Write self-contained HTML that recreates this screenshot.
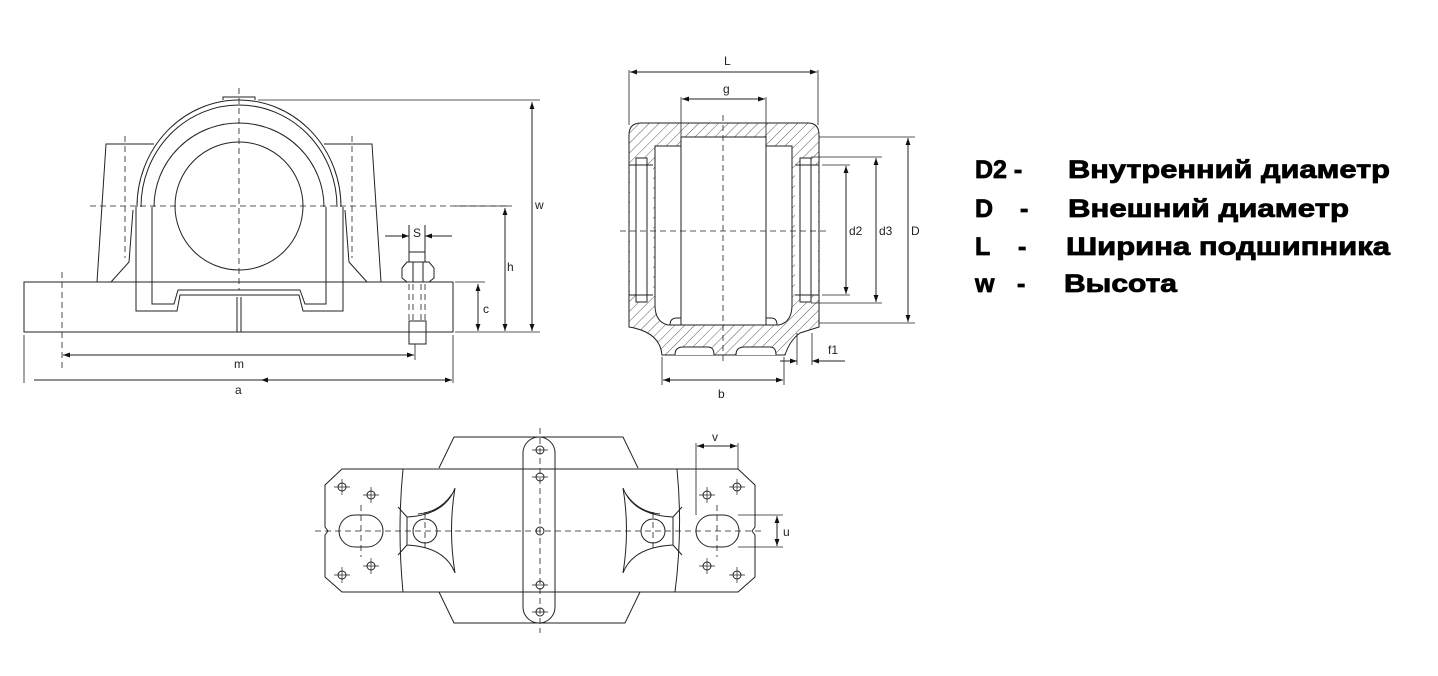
<!DOCTYPE html>
<html><head><meta charset="utf-8"><style>
html,body{margin:0;padding:0;background:#fff;}
svg{display:block;}
.t{font-family:"Liberation Sans",sans-serif;font-size:12px;fill:#222;}
.b{font-family:"Liberation Sans",sans-serif;font-weight:bold;font-size:25px;fill:#000;stroke:#000;stroke-width:0.8;}
</style></head><body>
<svg width="1438" height="676" viewBox="0 0 1438 676" xmlns="http://www.w3.org/2000/svg">
<defs>
<marker id="ar" viewBox="0 0 10 10" refX="10" refY="5" markerWidth="7" markerHeight="7" orient="auto-start-reverse"><path d="M0,1.5 L10,5 L0,8.5 z" fill="#111"/></marker>
<pattern id="h" width="7" height="7" patternUnits="userSpaceOnUse" patternTransform="rotate(45)"><line x1="0" y1="0" x2="0" y2="7" stroke="#333" stroke-width="0.8"/></pattern>
</defs>
<g fill="none" stroke="#222" stroke-width="1">
<!-- LEFT VIEW -->
<rect x="24" y="282" width="429" height="50"/>
<path d="M97,282 L106,144 L154,144 M111,282 L129,262 L133,210"/>
<path d="M381,282 L372,144 L324,144 M367,282 L349,262 L345,210"/>
<path d="M223,100 L223,97 L255,97 L255,100"/>
<path d="M137,207 A102,107 0 0 1 341,207"/>
<path d="M141,207 A98,102 0 0 1 337,207"/>
<path d="M136,207 L136,311 L177,311 L180,295 L299,295 L303,311 L343,311 L343,207"/>
<path d="M152,207 L152,304 L174,304 L178,290 L300,290 L305,304 L326,304 L326,207"/>
<path d="M154,207 A85,84 0 0 1 324,207"/>
<circle cx="239" cy="206" r="64"/>
<path d="M237,297 V332 M241,297 V332"/>
<g stroke-dasharray="6,4" stroke-width="0.8">
<path d="M239,88 V290 M90,206 H510 M125,136 V258 M352,136 V258 M62,272 V372"/>
<path d="M409,284 V321 M413,284 V321 M421,284 V321 M425,284 V321"/>
</g>
<path d="M402,268 L407,262 L429,262 L434,268 L434,278 L429,282 L407,282 L402,278 z M413,262 V282 M423,262 V282 M409,262 V252 H425 V262"/>
<rect x="409" y="321" width="17" height="23"/>
<path d="M409,225 V252 M425,225 V252"/>
<line x1="385" y1="236" x2="409" y2="236" marker-end="url(#ar)"/>
<line x1="452" y1="236" x2="425" y2="236" marker-end="url(#ar)"/>
<path d="M455,282 H485 M258,100 H540 M455,332 H540 M455,206 H512" stroke-width="0.8"/>
<line x1="478" y1="284" x2="478" y2="331" marker-start="url(#ar)" marker-end="url(#ar)"/>
<line x1="505" y1="208" x2="505" y2="331" marker-start="url(#ar)" marker-end="url(#ar)"/>
<line x1="532" y1="102" x2="532" y2="331" marker-start="url(#ar)" marker-end="url(#ar)"/>
<path d="M24,335 V383 M453,335 V383 M415,344 V360" stroke-width="0.8"/>
<line x1="63" y1="355" x2="414" y2="355" marker-start="url(#ar)" marker-end="url(#ar)"/>
<line x1="34" y1="380" x2="452" y2="380" marker-end="url(#ar)"/>
<line x1="300" y1="380" x2="261" y2="380" marker-end="url(#ar)"/>

<!-- MIDDLE VIEW -->
<path d="M629,135 Q629,123 641,123 L808,123 Q819,123 819,135 L819,327 L800,333 Q790,340 785,355 L662,355 Q660,332 629,327 z" fill="url(#h)"/>
<rect x="681" y="137" width="85" height="188" fill="#fff"/>
<path d="M655,146 L681,146 L681,325 L668,325 Q655,322 655,305 z" fill="#fff"/>
<path d="M766,146 L792,146 L792,305 Q792,322 779,325 L766,325 z" fill="#fff"/>
<path d="M630,165 L653,165 L653,295 L630,295 z M795,165 L818,165 L818,295 L795,295 z" fill="#fff" stroke="none"/>
<rect x="636" y="158" width="11" height="144" fill="#fff"/>
<rect x="800" y="158" width="11" height="144" fill="#fff"/>
<path d="M629,165 H653 M629,295 H653 M795,165 H819 M795,295 H819"/>
<path d="M675,355 Q675,347 683,347 L708,347 Q714,347 714,355 M736,355 Q736,347 744,347 L770,347 Q776,347 776,355" fill="#fff"/>
<path d="M670,325 Q670,318 677,318 L681,318 M766,318 L771,318 Q777,318 777,325"/>
<g stroke-dasharray="6,4" stroke-width="0.8"><path d="M723,115 V365 M620,231 H830"/></g>
<path d="M629,70 V125 M818,70 V125 M681,97 V137 M766,97 V137 M819,137 H915 M819,323 H915 M811,157 H882 M822,165 H850 M822,295 H850 M811,303 H882 M662,357 V385 M784,357 V385 M797,333 V365 M812,333 V365" stroke-width="0.8"/>
<line x1="630" y1="72" x2="817" y2="72" marker-start="url(#ar)" marker-end="url(#ar)"/>
<line x1="682" y1="99" x2="765" y2="99" marker-start="url(#ar)" marker-end="url(#ar)"/>
<line x1="908" y1="138" x2="908" y2="322" marker-start="url(#ar)" marker-end="url(#ar)"/>
<line x1="876" y1="158" x2="876" y2="302" marker-start="url(#ar)" marker-end="url(#ar)"/>
<line x1="846" y1="166" x2="846" y2="294" marker-start="url(#ar)" marker-end="url(#ar)"/>
<line x1="663" y1="380" x2="783" y2="380" marker-start="url(#ar)" marker-end="url(#ar)"/>
<line x1="780" y1="361" x2="797" y2="361" marker-end="url(#ar)"/>
<line x1="845" y1="361" x2="812" y2="361" marker-end="url(#ar)"/>

<!-- BOTTOM VIEW -->
<path d="M439,468 L454,437 L623,437 L638,468"/>
<path d="M439,592 L454,623 L625,623 L640,592"/>
<path d="M342,469 L738,469 L755,485 L755,527 L752,531 L755,535 L755,577 L738,592 L342,592 L325,577 L325,535 L328,531 L325,527 L325,485 z"/>
<path d="M403,469 Q397,530 403,592 M677,469 Q683,530 675,592"/>
<rect x="523" y="437" width="32" height="186" rx="16"/>
<rect x="339" y="515" width="44" height="32" rx="16"/>
<rect x="696" y="515" width="43" height="32" rx="16"/>
<path d="M398,507 L407,517 L407,545 L398,555 M455,488 Q445,515 407,517 M455,573 Q445,547 407,545 M455,488 Q448,530 455,573 M452,494 Q440,512 418,514"/>
<path d="M682,507 L673,517 L673,545 L682,555 M623,488 Q633,515 673,517 M623,573 Q633,547 673,545 M623,488 Q630,530 623,573 M626,494 Q638,512 660,514"/>
<circle cx="425" cy="531" r="12"/><circle cx="653" cy="531" r="12"/>
<g>
<circle cx="540" cy="450" r="4"/><circle cx="540" cy="477" r="4"/><circle cx="540" cy="531" r="4"/><circle cx="540" cy="585" r="4"/><circle cx="540" cy="612" r="4"/>
<circle cx="342" cy="487" r="4"/><circle cx="371" cy="495" r="4"/><circle cx="342" cy="575" r="4"/><circle cx="371" cy="566" r="4"/>
<circle cx="737" cy="487" r="4"/><circle cx="707" cy="495" r="4"/><circle cx="707" cy="566" r="4"/><circle cx="737" cy="575" r="4"/>
</g>
<path stroke-width="0.7" d="M334,487 H350 M342,479 V495 M363,495 H379 M371,487 V503 M334,575 H350 M342,567 V583 M363,566 H379 M371,558 V574 M729,487 H745 M737,479 V495 M699,495 H715 M707,487 V503 M699,566 H715 M707,558 V574 M729,575 H745 M737,567 V583 M532,450 H548 M532,477 H548 M532,585 H548 M532,612 H548"/>
<g stroke-dasharray="6,4" stroke-width="0.8"><path d="M315,531 H765 M540,428 V633 M361,505 V557 M425,512 V550 M653,512 V550 M717,505 V557"/></g>
<path d="M696,443 V515 M738,443 V469 M738,515 H783 M738,547 H783" stroke-width="0.8"/>
<line x1="697" y1="446" x2="737" y2="446" marker-start="url(#ar)" marker-end="url(#ar)"/>
<line x1="777" y1="516" x2="777" y2="546" marker-start="url(#ar)" marker-end="url(#ar)"/>
</g>
<g class="t">
<text x="413" y="237">S</text>
<text x="483" y="313">c</text>
<text x="507" y="271">h</text>
<text x="535" y="209">w</text>
<text x="234" y="368">m</text>
<text x="235" y="394">a</text>
<text x="724" y="65">L</text>
<text x="723" y="93">g</text>
<text x="849" y="235">d2</text>
<text x="879" y="235">d3</text>
<text x="911" y="235">D</text>
<text x="718" y="398">b</text>
<text x="828" y="354">f1</text>
<text x="712" y="441">v</text>
<text x="783" y="536">u</text>
</g>
<g class="b">
<text x="975" y="178">D2 -</text><text x="1068" y="178" textLength="322" lengthAdjust="spacingAndGlyphs">Внутренний диаметр</text>
<text x="975" y="217">D</text><text x="1020" y="217">-</text><text x="1068" y="217" textLength="281" lengthAdjust="spacingAndGlyphs">Внешний диаметр</text>
<text x="975" y="255">L</text><text x="1018" y="255">-</text><text x="1066" y="255" textLength="324" lengthAdjust="spacingAndGlyphs">Ширина подшипника</text>
<text x="975" y="292">w</text><text x="1017" y="292">-</text><text x="1064" y="292" textLength="113" lengthAdjust="spacingAndGlyphs">Высота</text>
</g>
</svg>
</body></html>
